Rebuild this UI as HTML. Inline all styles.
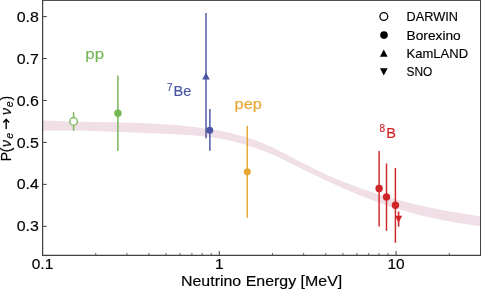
<!DOCTYPE html>
<html><head><meta charset="utf-8"><style>html,body{margin:0;padding:0;background:#fff;width:481px;height:289px;overflow:hidden}svg{display:block;will-change:transform}</style></head>
<body><svg width="481" height="289" viewBox="0 0 481 289"><rect x="0" y="0" width="481" height="289" fill="#fff"/>
<path d="M42.5,120.41 L46.5,120.62 L50.5,120.80 L54.6,120.97 L58.6,121.12 L62.6,121.26 L66.6,121.38 L70.6,121.49 L74.6,121.59 L78.7,121.68 L82.7,121.77 L86.7,121.85 L90.7,121.92 L94.7,121.99 L98.8,122.06 L102.8,122.13 L106.8,122.20 L110.8,122.28 L114.8,122.35 L118.8,122.44 L122.9,122.53 L126.9,122.63 L130.9,122.74 L134.9,122.86 L138.9,123.00 L143.0,123.15 L147.0,123.32 L151.0,123.50 L155.0,123.70 L159.0,123.93 L163.1,124.17 L167.1,124.45 L171.1,124.74 L175.1,125.06 L179.1,125.41 L183.1,125.79 L187.2,126.20 L191.2,126.65 L195.2,127.12 L199.2,127.64 L203.2,128.19 L207.3,128.78 L211.3,129.41 L215.3,130.08 L219.3,130.79 L223.3,131.55 L227.3,132.36 L231.4,133.24 L235.4,134.20 L239.4,135.23 L243.4,136.35 L247.4,137.58 L251.5,138.90 L255.5,140.34 L259.5,141.89 L263.5,143.54 L267.5,145.28 L271.5,147.11 L275.6,149.02 L279.6,150.99 L283.6,153.02 L287.6,155.09 L291.6,157.19 L295.7,159.30 L299.7,161.40 L303.7,163.49 L307.7,165.55 L311.7,167.57 L315.7,169.54 L319.8,171.45 L323.8,173.32 L327.8,175.14 L331.8,176.91 L335.8,178.63 L339.9,180.31 L343.9,181.94 L347.9,183.53 L351.9,185.08 L355.9,186.58 L359.9,188.04 L364.0,189.46 L368.0,190.84 L372.0,192.18 L376.0,193.47 L380.0,194.74 L384.1,195.96 L388.1,197.15 L392.1,198.30 L396.1,199.42 L400.1,200.50 L404.2,201.55 L408.2,202.57 L412.2,203.55 L416.2,204.51 L420.2,205.43 L424.2,206.33 L428.3,207.19 L432.3,208.03 L436.3,208.85 L440.3,209.63 L444.3,210.39 L448.4,211.13 L452.4,211.84 L456.4,212.53 L460.4,213.20 L464.4,213.85 L468.4,214.47 L472.5,215.08 L476.5,215.67 L480.5,216.24 L480.5,226.30 L476.5,225.73 L472.5,225.14 L468.4,224.53 L464.4,223.91 L460.4,223.26 L456.4,222.59 L452.4,221.89 L448.4,221.17 L444.3,220.41 L440.3,219.63 L436.3,218.81 L432.3,217.96 L428.3,217.07 L424.2,216.14 L420.2,215.17 L416.2,214.16 L412.2,213.11 L408.2,212.01 L404.2,210.86 L400.1,209.66 L396.1,208.42 L392.1,207.13 L388.1,205.80 L384.1,204.43 L380.0,203.02 L376.0,201.56 L372.0,200.06 L368.0,198.53 L364.0,196.96 L359.9,195.35 L355.9,193.71 L351.9,192.03 L347.9,190.32 L343.9,188.58 L339.9,186.81 L335.8,185.00 L331.8,183.17 L327.8,181.31 L323.8,179.42 L319.8,177.51 L315.7,175.58 L311.7,173.62 L307.7,171.63 L303.7,169.64 L299.7,167.63 L295.7,165.63 L291.6,163.65 L287.6,161.68 L283.6,159.76 L279.6,157.87 L275.6,156.05 L271.5,154.29 L267.5,152.60 L263.5,150.99 L259.5,149.46 L255.5,148.01 L251.5,146.64 L247.4,145.35 L243.4,144.14 L239.4,143.00 L235.4,141.95 L231.4,140.97 L227.3,140.08 L223.3,139.26 L219.3,138.52 L215.3,137.86 L211.3,137.28 L207.3,136.76 L203.2,136.31 L199.2,135.91 L195.2,135.56 L191.2,135.24 L187.2,134.97 L183.1,134.72 L179.1,134.49 L175.1,134.29 L171.1,134.11 L167.1,133.93 L163.1,133.77 L159.0,133.61 L155.0,133.46 L151.0,133.30 L147.0,133.13 L143.0,132.96 L138.9,132.79 L134.9,132.61 L130.9,132.44 L126.9,132.26 L122.9,132.09 L118.8,131.92 L114.8,131.75 L110.8,131.58 L106.8,131.43 L102.8,131.28 L98.8,131.13 L94.7,131.00 L90.7,130.88 L86.7,130.77 L82.7,130.67 L78.7,130.58 L74.6,130.51 L70.6,130.46 L66.6,130.42 L62.6,130.41 L58.6,130.41 L54.6,130.43 L50.5,130.48 L46.5,130.55 L42.5,130.64 Z" fill="#f0dfe6" stroke="none"/>
<line x1="73.6" y1="112.2" x2="73.6" y2="130.7" stroke="#74b755" stroke-width="1.45"/>
<circle cx="73.6" cy="121.4" r="3.8" fill="#fff" stroke="#74b755" stroke-width="1.3"/>
<line x1="117.9" y1="75.4" x2="117.9" y2="151.0" stroke="#74b755" stroke-width="1.45"/>
<circle cx="117.9" cy="113.2" r="3.7" fill="#74b755"/>
<line x1="206.0" y1="12.9" x2="206.0" y2="138.3" stroke="#4856a3" stroke-width="1.45"/>
<path d="M206.0,72.40 L202.20,79.40 L209.80,79.40 Z" fill="#4856a3"/>
<line x1="209.9" y1="109.0" x2="209.9" y2="150.8" stroke="#4856a3" stroke-width="1.45"/>
<circle cx="209.7" cy="130.2" r="3.5" fill="#4856a3"/>
<line x1="247.3" y1="125.9" x2="247.3" y2="217.8" stroke="#e8a532" stroke-width="1.45"/>
<circle cx="247.3" cy="171.8" r="3.5" fill="#e8a532"/>
<line x1="379.1" y1="151.1" x2="379.1" y2="226.6" stroke="#d12428" stroke-width="1.45"/>
<circle cx="379.1" cy="188.5" r="3.7" fill="#d12428"/>
<line x1="386.5" y1="163.5" x2="386.5" y2="230.8" stroke="#d12428" stroke-width="1.45"/>
<circle cx="386.5" cy="196.9" r="3.7" fill="#d12428"/>
<line x1="395.4" y1="167.9" x2="395.4" y2="242.8" stroke="#d12428" stroke-width="1.45"/>
<circle cx="395.4" cy="205.2" r="3.7" fill="#d12428"/>
<line x1="398.6" y1="211.5" x2="398.6" y2="226.6" stroke="#d12428" stroke-width="1.6"/>
<path d="M398.6,222.70 L395.00,215.70 L402.20,215.70 Z" fill="#d12428"/>
<line x1="42" y1="0.5" x2="481" y2="0.5" stroke="#505050" stroke-width="1"/>
<line x1="42.6" y1="0" x2="42.6" y2="255.9" stroke="#424242" stroke-width="1.25"/>
<line x1="42" y1="255.3" x2="481" y2="255.3" stroke="#424242" stroke-width="1.25"/>
<line x1="480.5" y1="0" x2="480.5" y2="255.9" stroke="#424242" stroke-width="1"/>
<line x1="42.5" y1="226.30" x2="46.8" y2="226.30" stroke="#424242" stroke-width="1"/>
<text transform="translate(38.90,231.40) scale(1.1,1)" text-anchor="end" font-family="Liberation Sans, sans-serif" font-size="14.5" fill="#000" stroke="#000" stroke-width="0.15" >0.3</text>
<line x1="42.5" y1="184.36" x2="46.8" y2="184.36" stroke="#424242" stroke-width="1"/>
<text transform="translate(38.90,189.46) scale(1.1,1)" text-anchor="end" font-family="Liberation Sans, sans-serif" font-size="14.5" fill="#000" stroke="#000" stroke-width="0.15" >0.4</text>
<line x1="42.5" y1="142.42" x2="46.8" y2="142.42" stroke="#424242" stroke-width="1"/>
<text transform="translate(38.90,147.52) scale(1.1,1)" text-anchor="end" font-family="Liberation Sans, sans-serif" font-size="14.5" fill="#000" stroke="#000" stroke-width="0.15" >0.5</text>
<line x1="42.5" y1="100.48" x2="46.8" y2="100.48" stroke="#424242" stroke-width="1"/>
<text transform="translate(38.90,105.58) scale(1.1,1)" text-anchor="end" font-family="Liberation Sans, sans-serif" font-size="14.5" fill="#000" stroke="#000" stroke-width="0.15" >0.6</text>
<line x1="42.5" y1="58.54" x2="46.8" y2="58.54" stroke="#424242" stroke-width="1"/>
<text transform="translate(38.90,63.64) scale(1.1,1)" text-anchor="end" font-family="Liberation Sans, sans-serif" font-size="14.5" fill="#000" stroke="#000" stroke-width="0.15" >0.7</text>
<line x1="42.5" y1="16.60" x2="46.8" y2="16.60" stroke="#424242" stroke-width="1"/>
<text transform="translate(38.90,21.70) scale(1.1,1)" text-anchor="end" font-family="Liberation Sans, sans-serif" font-size="14.5" fill="#000" stroke="#000" stroke-width="0.15" >0.8</text>
<line x1="42.50" y1="255.2" x2="42.50" y2="251" stroke="#424242" stroke-width="1"/>
<line x1="95.72" y1="255.2" x2="95.72" y2="252.9" stroke="#424242" stroke-width="0.8"/>
<line x1="126.86" y1="255.2" x2="126.86" y2="252.9" stroke="#424242" stroke-width="0.8"/>
<line x1="148.94" y1="255.2" x2="148.94" y2="252.9" stroke="#424242" stroke-width="0.8"/>
<line x1="166.08" y1="255.2" x2="166.08" y2="252.9" stroke="#424242" stroke-width="0.8"/>
<line x1="180.08" y1="255.2" x2="180.08" y2="252.9" stroke="#424242" stroke-width="0.8"/>
<line x1="191.91" y1="255.2" x2="191.91" y2="252.9" stroke="#424242" stroke-width="0.8"/>
<line x1="202.17" y1="255.2" x2="202.17" y2="252.9" stroke="#424242" stroke-width="0.8"/>
<line x1="211.21" y1="255.2" x2="211.21" y2="252.9" stroke="#424242" stroke-width="0.8"/>
<line x1="219.30" y1="255.2" x2="219.30" y2="251" stroke="#424242" stroke-width="1"/>
<line x1="272.52" y1="255.2" x2="272.52" y2="252.9" stroke="#424242" stroke-width="0.8"/>
<line x1="303.66" y1="255.2" x2="303.66" y2="252.9" stroke="#424242" stroke-width="0.8"/>
<line x1="325.74" y1="255.2" x2="325.74" y2="252.9" stroke="#424242" stroke-width="0.8"/>
<line x1="342.88" y1="255.2" x2="342.88" y2="252.9" stroke="#424242" stroke-width="0.8"/>
<line x1="356.88" y1="255.2" x2="356.88" y2="252.9" stroke="#424242" stroke-width="0.8"/>
<line x1="368.71" y1="255.2" x2="368.71" y2="252.9" stroke="#424242" stroke-width="0.8"/>
<line x1="378.97" y1="255.2" x2="378.97" y2="252.9" stroke="#424242" stroke-width="0.8"/>
<line x1="388.01" y1="255.2" x2="388.01" y2="252.9" stroke="#424242" stroke-width="0.8"/>
<line x1="396.10" y1="255.2" x2="396.10" y2="251" stroke="#424242" stroke-width="1"/>
<line x1="449.32" y1="255.2" x2="449.32" y2="252.9" stroke="#424242" stroke-width="0.8"/>
<line x1="480.46" y1="255.2" x2="480.46" y2="252.9" stroke="#424242" stroke-width="0.8"/>
<text transform="translate(42.50,269.40) scale(1.07,1)" text-anchor="middle" font-family="Liberation Sans, sans-serif" font-size="14.5" fill="#000" stroke="#000" stroke-width="0.15" >0.1</text>
<text transform="translate(219.30,269.40) scale(1.07,1)" text-anchor="middle" font-family="Liberation Sans, sans-serif" font-size="14.5" fill="#000" stroke="#000" stroke-width="0.15" >1</text>
<text transform="translate(396.10,269.40) scale(1.07,1)" text-anchor="middle" font-family="Liberation Sans, sans-serif" font-size="14.5" fill="#000" stroke="#000" stroke-width="0.15" >10</text>
<text transform="translate(261.60,285.70) scale(1.1,1)" text-anchor="middle" font-family="Liberation Sans, sans-serif" font-size="14.5" fill="#000" stroke="#000" stroke-width="0.15" >Neutrino Energy [MeV]</text>
<g transform="translate(10.8,159.6) rotate(-90)"><text x="-1.70" y="0.00" font-family="Liberation Sans, sans-serif" font-size="14" stroke="#000" stroke-width="0.15">P</text><text x="7.40" y="0.00" font-family="Liberation Sans, sans-serif" font-size="14" stroke="#000" stroke-width="0.15">(</text><text x="12.60" y="0.00" font-family="Liberation Sans, sans-serif" font-size="14" stroke="#000" stroke-width="0.15" font-style="italic">ν</text><text x="21.00" y="2.60" font-family="Liberation Sans, sans-serif" font-size="10" stroke="#000" stroke-width="0.15" font-style="italic">e</text><text x="44.60" y="0.00" font-family="Liberation Sans, sans-serif" font-size="14" stroke="#000" stroke-width="0.15" font-style="italic">ν</text><text x="52.50" y="2.60" font-family="Liberation Sans, sans-serif" font-size="10" stroke="#000" stroke-width="0.15" font-style="italic">e</text><text x="59.10" y="0.00" font-family="Liberation Sans, sans-serif" font-size="14" stroke="#000" stroke-width="0.15">)</text></g>
<path d="M6.2,129 L6.2,119.6 M3.3,122.4 L6.2,119.3 L9.1,122.4" fill="none" stroke="#000" stroke-width="1.4"/>
<text transform="translate(85.30,58.50) scale(1.12,1)" text-anchor="start" font-family="Liberation Sans, sans-serif" font-size="15" fill="#74b755" stroke="#74b755" stroke-width="0.15" >pp</text>
<text transform="translate(167.00,90.50) scale(1.0,1)" text-anchor="start" font-family="Liberation Sans, sans-serif" font-size="10" fill="#4856a3" stroke="#4856a3" stroke-width="0.15" >7</text>
<text transform="translate(173.50,95.90) scale(1.0,1)" text-anchor="start" font-family="Liberation Sans, sans-serif" font-size="14.5" fill="#4856a3" stroke="#4856a3" stroke-width="0.15" >Be</text>
<text transform="translate(234.60,109.00) scale(1.09,1)" text-anchor="start" font-family="Liberation Sans, sans-serif" font-size="15" fill="#e8a532" stroke="#e8a532" stroke-width="0.15" >pep</text>
<text transform="translate(379.60,131.60) scale(1.0,1)" text-anchor="start" font-family="Liberation Sans, sans-serif" font-size="10" fill="#d12428" stroke="#d12428" stroke-width="0.15" >8</text>
<text transform="translate(386.20,137.90) scale(1.0,1)" text-anchor="start" font-family="Liberation Sans, sans-serif" font-size="14.5" fill="#d12428" stroke="#d12428" stroke-width="0.15" >B</text>
<circle cx="383.8" cy="16.5" r="3.9" fill="#fff" stroke="#000" stroke-width="1.3"/>
<circle cx="384.0" cy="35.1" r="3.8" fill="#000"/>
<path d="M383.8,49.55 L379.95,56.85 L387.65,56.85 Z" fill="#000"/>
<path d="M383.8,75.45 L379.95,68.15 L387.65,68.15 Z" fill="#000"/>
<text transform="translate(406.60,21.00) scale(1.01,1)" text-anchor="start" font-family="Liberation Sans, sans-serif" font-size="12.6" fill="#000" stroke="#000" stroke-width="0.15" >DARWIN</text>
<text transform="translate(406.60,39.70) scale(1.09,1)" text-anchor="start" font-family="Liberation Sans, sans-serif" font-size="12.6" fill="#000" stroke="#000" stroke-width="0.15" >Borexino</text>
<text transform="translate(406.60,57.70) scale(1.034,1)" text-anchor="start" font-family="Liberation Sans, sans-serif" font-size="12.6" fill="#000" stroke="#000" stroke-width="0.15" >KamLAND</text>
<text transform="translate(406.60,76.10) scale(0.944,1)" text-anchor="start" font-family="Liberation Sans, sans-serif" font-size="12.6" fill="#000" stroke="#000" stroke-width="0.15" >SNO</text></svg></body></html>
